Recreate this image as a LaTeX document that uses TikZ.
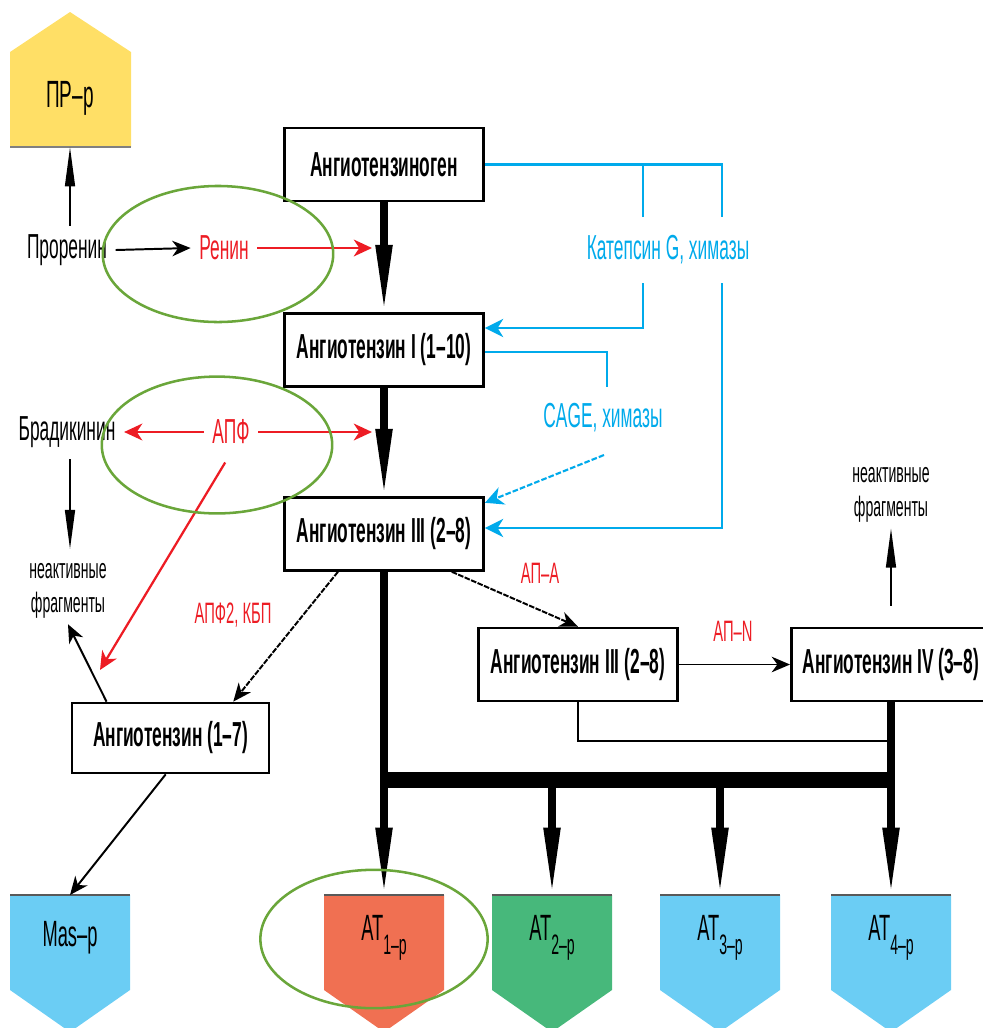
\documentclass[tikz,border=0pt]{standalone}
\usepackage{fontspec}
\setmainfont{Liberation Sans}[FakeStretch=0.5]
\usetikzlibrary{arrows.meta}
\definecolor{redc}{RGB}{237,28,36}
\definecolor{bluec}{RGB}{0,170,235}
\definecolor{greenc}{RGB}{106,166,58}
\definecolor{prcol}{RGB}{255,223,102}
\definecolor{recblue}{RGB}{107,205,244}
\definecolor{recred}{RGB}{240,112,82}
\definecolor{recgreen}{RGB}{71,184,123}
\newcommand\rsub[1]{\raisebox{-0.4em}{\fontsize{20}{20}\selectfont #1}}

\begin{document}
\begin{tikzpicture}[x=0.025cm,y=-0.025cm,
    box/.style={draw,line width=1.9pt,fill=white,minimum width=4.98cm,minimum height=1.82cm,inner sep=0pt,font=\fontsize{24.7}{26}\selectfont\bfseries},
    lbl/.style={inner sep=6pt,font=\fontsize{24.7}{26}\selectfont},
    mid/.style={inner sep=4pt,font=\fontsize{21}{23}\selectfont},
    small/.style={inner sep=4pt,align=center,font=\fontsize{20}{24}\selectfont},
    rlbl/.style={inner sep=0pt,font=\fontsize{26}{28}\selectfont},
    blkarr/.style={line width=1.4pt,-{Stealth[length=13pt,width=11pt,inset=4pt]}},
    longarr/.style={line width=1.4pt,-{Triangle[length=28pt,width=7pt]}},
    thickarr/.style={line width=5pt,-{Triangle[length=48pt,width=11pt]}},
    redarr/.style={redc,line width=1.6pt,-{Stealth[length=13pt,width=12pt,inset=4pt]}},
    blueln/.style={bluec,line width=1.5pt},
    bluearr/.style={bluec,line width=1.5pt,-{Stealth[length=13pt,width=13pt,inset=4pt]}}]
    \useasboundingbox (0,0) rectangle (982,1028);

    % receptor on top
    \fill[prcol] (10,147) -- (10,52) -- (70,12) -- (131,52) -- (131,147) -- cycle;
    \draw[gray,line width=1pt] (10,147) -- (131,147);
    \coordinate (prr) at (70,147);
    \node[rlbl,font=\fontsize{27}{29}\selectfont] (prrlbl) at (70,98) {ПР–р};

    % receptors at the bottom
    \foreach \nm/\cx/\col/\txt in {mas/70/recblue/{Mas–р},at1/384/recred/{AT\rsub{1–р}},
        at2/552/recgreen/{AT\rsub{2–р}},at3/720/recblue/{AT\rsub{3–р}},at4/891/recblue/{AT\rsub{4–р}}} {
        \fill[\col] (\cx-60,895) -- (\cx+60,895) -- (\cx+60,990) -- (\cx,1032) -- (\cx-60,990) -- cycle;
        \draw[gray!70!black,line width=1pt] (\cx-60,895) -- (\cx+60,895);
        \coordinate (\nm) at (\cx,895);
        \node[rlbl] (\nm lbl) at (\cx,938) {\txt};
    }

    % boxes
    \node[box] (agen) at (384,164.5) {Ангиотензиноген};
    \node[box] (ang1) at (384,350) {Ангиотензин I (1–10)};
    \node[box] (ang3) at (384,534) {Ангиотензин III (2–8)};
    \node[box,minimum width=4.93cm,minimum height=1.75cm] (ang17) at (170.5,738) {Ангиотензин (1–7)};
    \node[box] (ang3b) at (578,664.5) {Ангиотензин III (2–8)};
    \node[box] (ang4) at (891,664.5) {Ангиотензин IV (3–8)};

    % texts
    \node[lbl] (prorenin) at (67,250) {Проренин};
    \node[lbl,text=redc] (renin) at (224,248) {Ренин};
    \node[lbl] (brady) at (67,432) {Брадикинин};
    \node[lbl,text=redc] (apf) at (231,432) {АПФ};
    \node[small] (fragL) at (68,591) {неактивные\\фрагменты};
    \node[mid,text=redc] (apf2) at (233,615) {АПФ2, КБП};
    \node[lbl,text=bluec] (catg) at (668,250) {Катепсин G, химазы};
    \node[lbl,text=bluec] (cage) at (603,418) {CAGE, химазы};
    \node[mid,text=redc] (apa) at (540,573) {АП–А};
    \node[mid,text=redc] (apn) at (733,631) {АП–N};
    \node[small] (fragR) at (891,495) {неактивные\\фрагменты};

    \coordinate (reninT) at (372,248);
    \coordinate (apfT) at (372,432);
    \coordinate (apfE) at (100,670);
    \coordinate (catA) at (643,217);
    \coordinate (catB) at (722,217);
    \coordinate (catC) at (643,283);
    \coordinate (catD) at (722,283);
    \coordinate (cageT) at (607,387);
    \coordinate (cageB) at (604,455);
    \coordinate (join) at (891,741);
    \coordinate (barL) at (381,780);
    \coordinate (barR) at (894,780);

    % black connectors
    \draw[longarr] (prr |- prorenin.north) -- (prr);
    \draw[blkarr] (prorenin.east) -- (renin.west);
    \draw[longarr,shorten <=2pt,shorten >=6pt] (prr |- brady.south) -- (prr |- fragL.north);
    \draw[blkarr] ([xshift=0.9cm]ang17.north west) -- (fragL.south);
    \draw[blkarr,dash pattern=on 4pt off 1pt] ([xshift=-1.15cm]ang3.south) -- ([xshift=-0.93cm]ang17.north east);
    \draw[blkarr,dash pattern=on 4pt off 1pt] ([xshift=-0.83cm]ang3.south east) -- (ang3b.north);
    \draw[blkarr] ([xshift=-0.12cm]ang17.south) -- (mas);
    \draw[blkarr] (ang3b.east) -- (ang4.west);
    \draw[longarr] ([yshift=0.53cm]ang4.north) -- (ang4.north |- fragR.south);
    \draw[line width=1.4pt] (ang3b.south) |- (join);

    % thick connectors
    \draw[thickarr] (agen.south) -- (ang1.north);
    \draw[thickarr] (ang1.south) -- (ang3.north);
    \draw[thickarr] (ang3.south) -- (at1);
    \draw[thickarr] (ang4.south) -- (at4);
    \draw[line width=11pt] (barL) -- (barR);
    \draw[thickarr] (at2 |- barR) -- (at2);
    \draw[thickarr] (at3 |- barR) -- (at3);

    % red connectors
    \draw[redarr] (renin.east) -- (reninT);
    \draw[redarr] (apf.west) -- (brady.east);
    \draw[redarr] (apf.east) -- (apfT);
    \draw[redarr,shorten <=8pt] (apf.south) -- (apfE);

    % blue connectors
    \draw[blueln] (agen.east) -| (catB);
    \draw[blueln] (catA) -- (catA |- agen.east);
    \draw[bluearr] (catC) |- ([yshift=0.55cm]ang1.east);
    \draw[blueln] ([yshift=-0.05cm]ang1.east) -| (cageT);
    \draw[bluearr,dash pattern=on 4pt off 1.5pt] (cageB) -- ([yshift=0.78cm]ang3.east);
    \draw[bluearr] (catD) |- ([yshift=0.15cm]ang3.east);

    % marks
    \draw[greenc,line width=1.8pt] (218,254) ellipse [x radius=2.88cm,y radius=1.7cm];
    \draw[greenc,line width=1.8pt] (217,445) ellipse [x radius=2.88cm,y radius=1.71cm];
    \draw[greenc,line width=1.8pt] (374,939) ellipse [x radius=2.84cm,y radius=1.73cm];
\end{tikzpicture}
\end{document}
